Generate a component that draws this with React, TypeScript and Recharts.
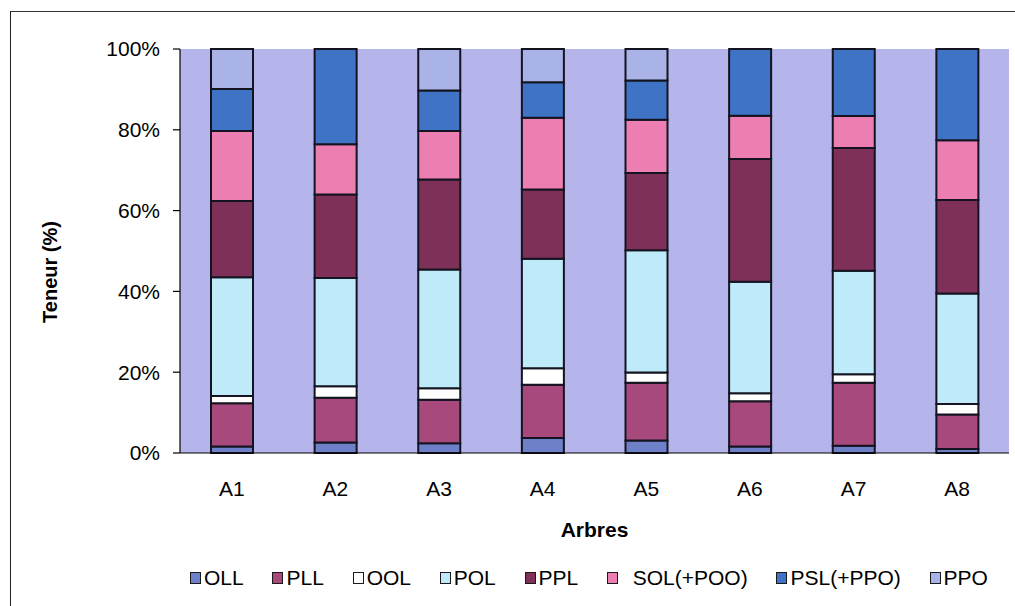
import React from 'react';
import { BarChart, Bar, XAxis, YAxis, CartesianGrid, Legend } from 'recharts';

const categories = ['A1', 'A2', 'A3', 'A4', 'A5', 'A6', 'A7', 'A8'];
const OLL = [1.6, 2.6, 2.4, 3.7, 3.1, 1.6, 1.8, 1.0];
const PLL = [10.7, 11.1, 10.8, 13.2, 14.3, 11.2, 15.6, 8.5];
const OOL = [1.8, 2.8, 2.8, 4.1, 2.5, 2.0, 2.1, 2.6];
const POL = [29.4, 26.8, 29.4, 27.1, 30.3, 27.6, 25.6, 27.4];
const PPL = [18.9, 20.7, 22.3, 17.1, 19.1, 30.4, 30.4, 23.1];
const SOL = [17.3, 12.4, 12.0, 17.8, 13.2, 10.7, 7.9, 14.8];
const PSL = [10.4, 23.6, 10.0, 8.8, 9.7, 16.5, 16.6, 22.6];
const PPO = [9.9, 0, 10.3, 8.2, 7.8, 0, 0, 0];
const yTicks = [0, 0.2, 0.4, 0.6, 0.8, 1];
const boundaryTicks = [0, 1, 2, 3, 4, 5, 6, 7, 8];

const series = [
  { key: 'OLL', name: 'OLL', values: OLL, color: '#6d80c8' },
  { key: 'PLL', name: 'PLL', values: PLL, color: '#a8497e' },
  { key: 'OOL', name: 'OOL', values: OOL, color: '#ffffff' },
  { key: 'POL', name: 'POL', values: POL, color: '#bfeafa' },
  { key: 'PPL', name: 'PPL', values: PPL, color: '#7e3058' },
  { key: 'SOL', name: '  SOL(+POO)', values: SOL, color: '#ec7eb2' },
  { key: 'PSL', name: 'PSL(+PPO)', values: PSL, color: '#3f73c6' },
  { key: 'PPO', name: 'PPO', values: PPO, color: '#a9b3e8' },
];

const data = categories.map((cat, i) => {
  const row: Record<string, number | string> = { cat, idx: i + 0.5 };
  series.forEach((s) => {
    row[s.key] = s.values[i];
  });
  return row;
});

const FONT = '"Liberation Sans", Arial, Helvetica, sans-serif';

const LegendContent = () => (
  <div
    style={{
      display: 'flex',
      justifyContent: 'space-between',
      alignItems: 'center',
      width: 798,
      fontFamily: FONT,
      fontSize: 21,
      color: '#000',
      lineHeight: '24px',
    }}
  >
    {series.map((s) => (
      <div key={s.key} style={{ display: 'flex', alignItems: 'center', whiteSpace: 'pre' }}>
        <span
          style={{
            display: 'inline-block',
            width: 9,
            height: 10,
            background: s.color,
            border: '1.5px solid #1a1a1a',
            marginRight: 3,
          }}
        />
        <span>{s.name}</span>
      </div>
    ))}
  </div>
);

export default function App() {
  return (
    <div style={{ position: 'absolute', left: 0, top: 0, width: 1015, height: 606, background: '#fff' }}>
      <div
        style={{
          position: 'absolute',
          left: 10,
          top: 11,
          width: 1010,
          height: 600,
          borderLeft: '1.5px solid #222',
          borderTop: '1.5px solid #333',
        }}
      />
      <div style={{ position: 'absolute', left: 0, top: 0 }}>
        <BarChart
          width={1015}
          height={606}
          data={data}
          stackOffset="expand"
          margin={{ top: 49, right: 6, bottom: 0, left: 10 }}
        >
          <CartesianGrid xAxisId="cat" fill="#b5b4eb" stroke="none" horizontal={false} vertical={false} />
          <XAxis
            xAxisId="bound"
            type="number"
            dataKey="idx"
            domain={[0, 8]}
            ticks={boundaryTicks}
            height={0}
            axisLine={false}
            tickLine={{ stroke: '#000', strokeWidth: 1.2 }}
            tickSize={7}
            tickFormatter={() => ''}
          />
          <XAxis
            xAxisId="cat"
            dataKey="cat"
            height={153}
            tickLine={false}
            axisLine={{ stroke: '#000', strokeWidth: 1.2 }}
            tickSize={7}
            tickMargin={21}
            tick={{ fontFamily: FONT, fontSize: 21, fill: '#000' }}
            label={{
              value: 'Arbres',
              position: 'insideBottom',
              offset: 69,
              style: { fontFamily: FONT, fontSize: 21, fontWeight: 'bold', fill: '#000' },
            }}
          />
          <YAxis
            width={170}
            domain={[0, 1]}
            ticks={yTicks}
            tickFormatter={(v: number) => `${Math.round(v * 100)}%`}
            axisLine={{ stroke: '#000', strokeWidth: 1.2 }}
            tickLine={{ stroke: '#000', strokeWidth: 1.2 }}
            tickSize={7}
            tickMargin={13}
            tick={{ fontFamily: FONT, fontSize: 21, fill: '#000' }}
            label={{
              content: () => (
                <text
                  x={50}
                  y={272}
                  transform="rotate(-90, 50, 272)"
                  textAnchor="middle"
                  dominantBaseline="central"
                  style={{ fontFamily: FONT, fontSize: 20, fontWeight: 'bold', fill: '#000' }}
                >
                  Teneur (%)
                </text>
              ),
            }}
          />
          {series.map((s) => (
            <Bar
              key={s.key}
              dataKey={s.key}
              name={s.name}
              stackId="a"
              xAxisId="cat"
              fill={s.color}
              stroke="#141420"
              strokeWidth={2}
              barSize={42}
              isAnimationActive={false}
            />
          ))}
          <Legend
            layout="horizontal"
            verticalAlign="middle"
            align="center"
            content={<LegendContent />}
            wrapperStyle={{ top: 566, left: 190, width: 798, height: 24 }}
          />
        </BarChart>
      </div>
    </div>
  );
}
